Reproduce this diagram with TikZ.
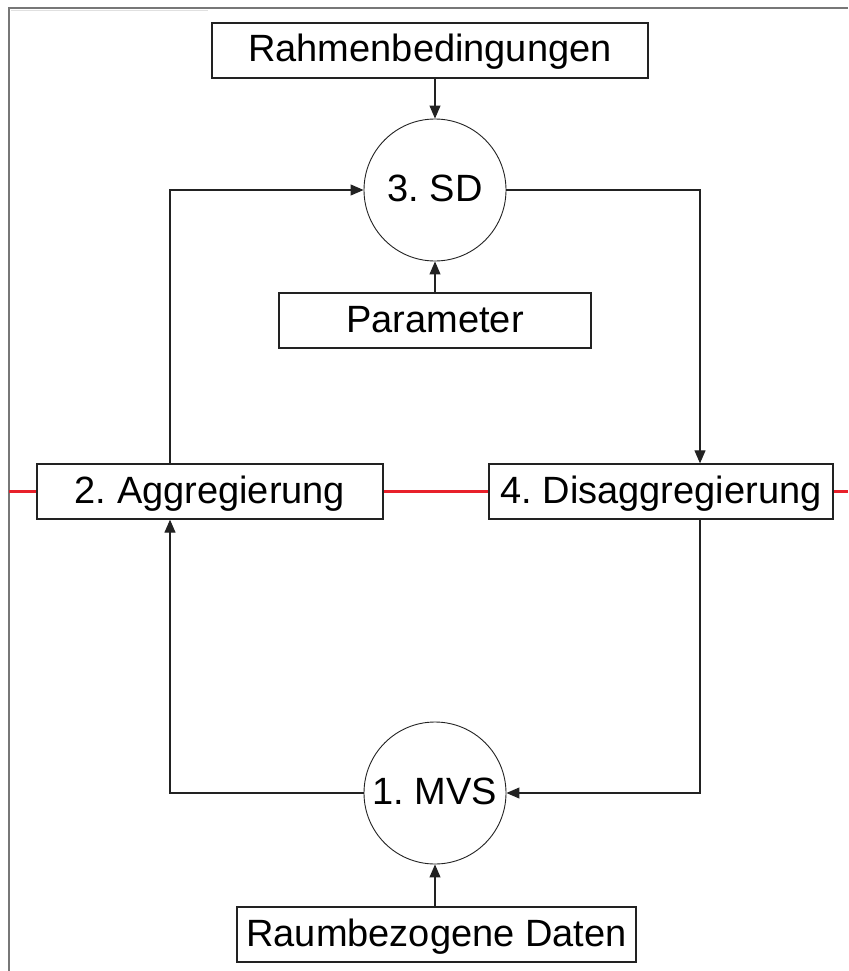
\documentclass[tikz,border=0pt]{standalone}
\usepackage{fontspec}
\setmainfont{Liberation Sans}
\usetikzlibrary{arrows.meta}
\definecolor{framegray}{HTML}{777777}
\definecolor{linegray}{HTML}{222222}
\definecolor{axisred}{HTML}{E8202A}
\frenchspacing
\begin{document}
\begin{tikzpicture}[x=1pt,y=-1pt,
  every node/.style={font=\fontsize{38}{40}\selectfont, inner sep=0pt,
    text height=27pt, text depth=4pt, align=center},
  stepbox/.style={draw=linegray, line width=1.3pt, fill=white, minimum height=55pt},
  phase/.style={circle, draw=linegray, line width=0.9pt, fill=white, minimum size=142pt},
  flow/.style={draw=linegray, line width=1.1pt, -{Triangle[length=13pt,width=11pt]}},
  border/.style={draw=framegray, line width=1.6pt}]
\useasboundingbox (0,0) rectangle (848,971);

% page frame (top and left edge)
\draw[border] (9,971) -- (9,8) -- (848,8);
\draw[draw=black!12, line width=1pt] (11,11) -- (208,11);

% routing columns for the loop
\coordinate (colL) at (170,0);
\coordinate (colR) at (700,0);

% red separation line (drawn beneath the boxes)
\coordinate (redL) at (9,491.5);
\coordinate (redR) at (848,491.5);
\draw[axisred, line width=3.2pt] (redL) -- (redR);

% boxes and phases
\node[stepbox, minimum width=436pt] (rahmen) at (430,50.5) {Rahmenbedingungen};
\node[phase] (sd) at (435,190) {3. SD};
\node[stepbox, minimum width=312pt] (param) at (435,320.5) {Parameter};
\node[stepbox, minimum width=346pt] (agg) at (210,491.5) {2. Aggregierung};
\node[stepbox, minimum width=344pt] (dis) at (661,491.5) {4. Disaggregierung};
\node[phase] (mvs) at (435,793) {1. MVS};
\node[stepbox, minimum width=399pt] (raum) at (436.5,934.5) {Raumbezogene Daten};

% connectors
\draw[flow] (rahmen.south -| sd) -- (sd.north);
\draw[flow] (param.north) -- (sd.south);
\draw[flow] (agg.north -| colL) |- (sd.west);
\draw[flow] (sd.east) -| (dis.north -| colR);
\draw[flow] (dis.south -| colR) |- (mvs.east);
\draw[flow] (mvs.west) -| (agg.south -| colL);
\draw[flow] (raum.north -| mvs) -- (mvs.south);
\end{tikzpicture}
\end{document}
